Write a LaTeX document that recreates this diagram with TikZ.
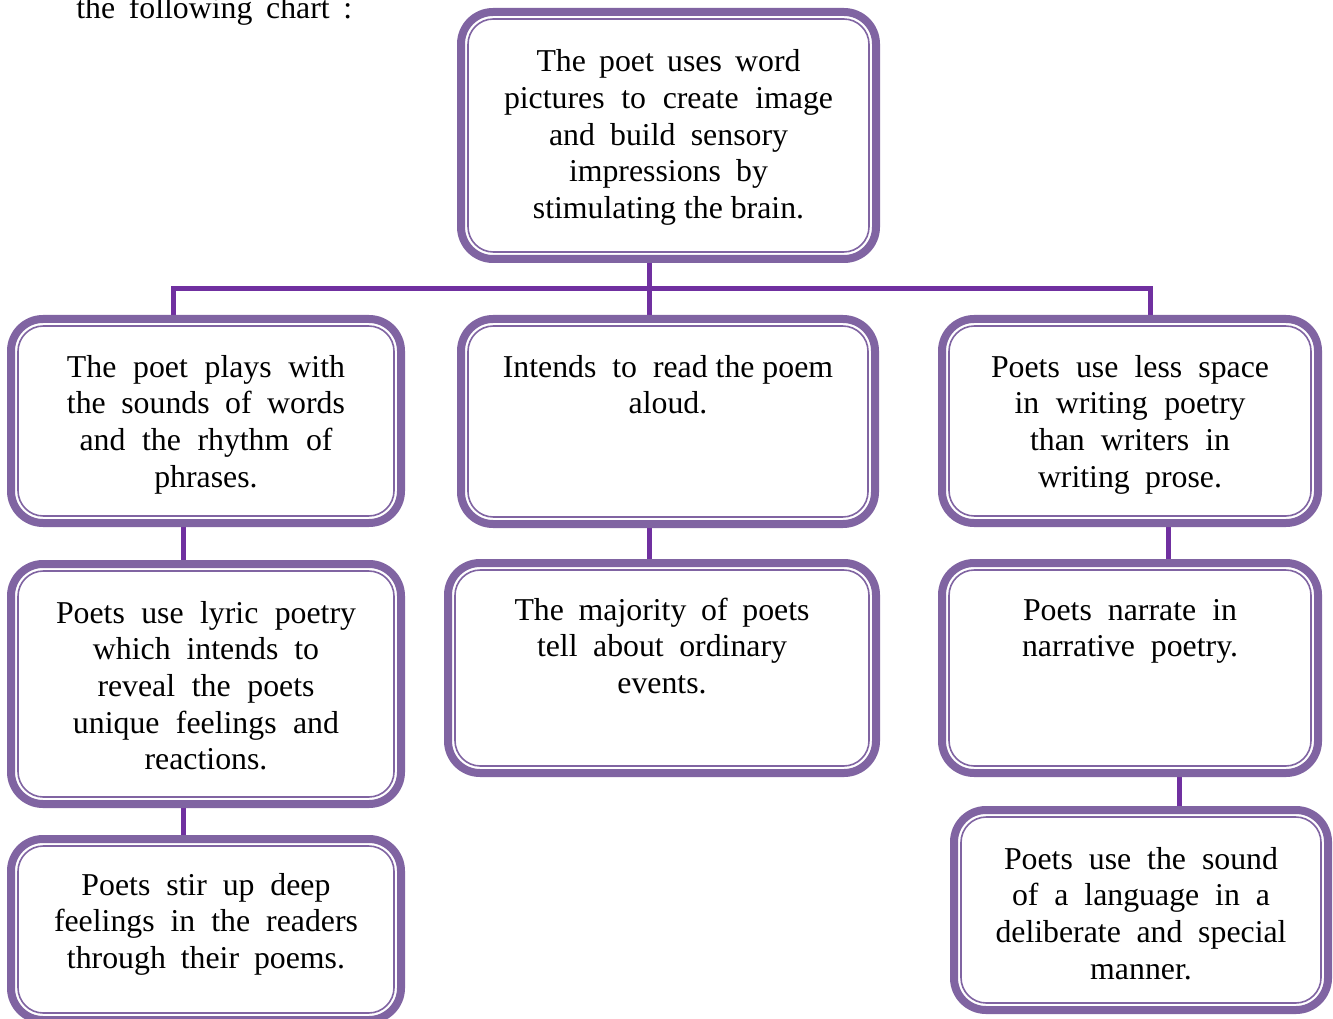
\documentclass[tikz,border=0pt]{standalone}
\usepackage{fontspec}
\setmainfont{Liberation Serif}
\usetikzlibrary{backgrounds}
\newdimen\px \px=0.75pt
\definecolor{frameviolet}{RGB}{128,100,162}
\definecolor{linkviolet}{RGB}{112,48,160}
\newcommand\jline[2]{\makebox[#1\px][s]{\strut #2}}
\newcommand\boxtext[4]{\parbox[c][\dimexpr#2\px-8\px\relax][t]{\dimexpr#1\px-8\px\relax}{\fontsize{23.85}{27.5}\selectfont\centering\vspace*{\dimexpr#3\px-2\px-19.25pt\relax}#4\par}}
\tikzset{
  chartbox/.style={draw=frameviolet, line width=6pt, rounded corners=24pt, fill=white, inner sep=0pt, outer sep=0pt},
  innerframe/.style={draw=frameviolet, line width=1.2pt, rounded corners=19pt},
  link/.style={draw=linkviolet, line width=3.75pt}
}
\begin{document}
\begin{tikzpicture}[x=0.75pt,y=-0.75pt]
\useasboundingbox (0,0) rectangle (1333,1019);

\node[anchor=base west, inner sep=0pt] (title) at (76,19) {\fontsize{23.85}{27.5}\selectfont\makebox[276\px][s]{the following chart :}};

\node[chartbox] (top) at (668.5,135.5) {\boxtext{423}{255}{62}{%
\jline{264}{The poet uses word}\\
\jline{329}{pictures to create image}\\
\jline{239}{and build sensory}\\
\jline{199}{impressions by}\\
\strut stimulating the brain.}};

\node[chartbox] (l2) at (206,421) {\boxtext{398}{212}{60}{%
\jline{278}{The poet plays with}\\
\jline{278}{the sounds of words}\\
\jline{253}{and the rhythm of}\\
\strut phrases.}};

\node[chartbox] (m2) at (668,421.5) {\boxtext{422}{213}{60}{%
\strut Intends\ \ to\ \ read the poem\\
\strut aloud.}};

\node[chartbox] (r2) at (1130,421) {\boxtext{384}{212}{60}{%
\jline{278}{Poets use less space}\\
\jline{231}{in writing poetry}\\
\jline{200}{than writers in}\\
\jline{184}{writing prose.}}};

\node[chartbox] (l3) at (206,684) {\boxtext{398}{248}{61}{%
\jline{300}{Poets use lyric poetry}\\
\jline{226}{which intends to}\\
\jline{217}{reveal the poets}\\
\jline{266}{unique feelings and}\\
\strut reactions.}};

\node[chartbox] (m3) at (662,668) {\boxtext{436}{218}{59}{%
\jline{295}{The majority of poets}\\
\jline{250}{tell about ordinary}\\
\strut events.}};

\node[chartbox] (r3) at (1130,668) {\boxtext{384}{218}{59}{%
\jline{214}{Poets narrate in}\\
\jline{216}{narrative poetry.}}};

\node[chartbox] (l4) at (206,929.5) {\boxtext{398}{189}{58}{%
\jline{249}{Poets stir up deep}\\
\jline{304}{feelings in the readers}\\
\jline{278}{through their poems.}}};

\node[chartbox] (r4) at (1141,910) {\boxtext{382}{208}{61}{%
\jline{274}{Poets use the sound}\\
\jline{258}{of a language in a}\\
\jline{291}{deliberate and special}\\
\strut manner.}};

\foreach \n in {top,l2,m2,r2,l3,m3,r3,l4,r4}
  \draw[innerframe] ([shift={(5.25pt,-5.25pt)}]\n.north west) rectangle ([shift={(-5.25pt,5.25pt)}]\n.south east);

\coordinate (j) at (649,289);
\coordinate (bl) at (173,289);
\coordinate (br) at (1150,289);
\coordinate (xl) at (183,0);
\coordinate (xra) at (1168,0);
\coordinate (xrb) at (1179,0);

\begin{pgfonlayer}{background}
\fill[white] (0,0) rectangle (1333,1019);
\draw[link] (top.south -| j) -- (j);
\draw[link] (bl |- l2.north) -- (bl) -- (br) -- (br |- r2.north);
\draw[link] (j) -- (j |- m2.north);
\draw[link] (l2.south -| xl) -- (l3.north -| xl);
\draw[link] (l3.south -| xl) -- (l4.north -| xl);
\draw[link] (m2.south -| j) -- (m3.north -| j);
\draw[link] (r2.south -| xra) -- (r3.north -| xra);
\draw[link] (r3.south -| xrb) -- (r4.north -| xrb);
\end{pgfonlayer}
\end{tikzpicture}
\end{document}
